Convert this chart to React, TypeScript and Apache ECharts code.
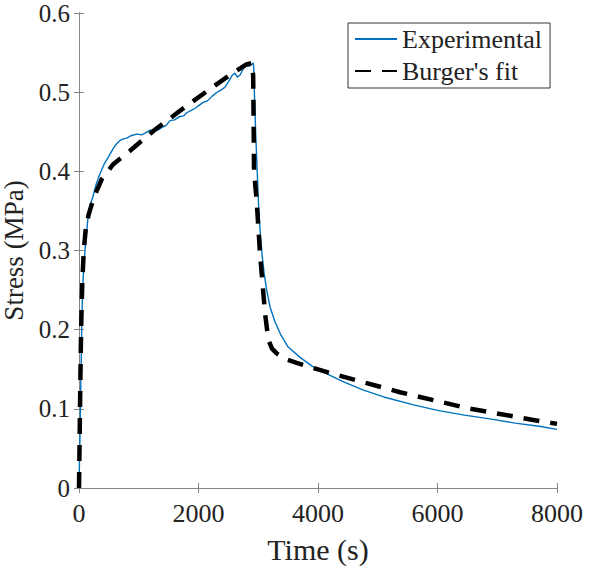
import React, { useEffect, useRef } from "react";
import * as echarts from "echarts";

const expTime = [0, 15, 30, 45, 60, 80, 100, 130, 156, 190, 229, 280, 351, 420, 491, 560, 620, 686, 740, 800, 870, 965, 1050, 1120, 1188, 1250, 1320, 1400, 1460, 1523, 1600, 1680, 1750, 1802, 1880, 1950, 2020, 2081, 2150, 2230, 2304, 2380, 2440, 2500, 2560, 2610, 2650, 2700, 2750, 2800, 2850, 2890, 2917, 2925, 2935, 2950, 2962, 2985, 3007, 3035, 3068, 3100, 3141, 3200, 3280, 3380, 3500, 3700, 3900, 4100, 4400, 4750, 5100, 5600, 6000, 6450, 6900, 7300, 7700, 8000];
const expStress = [0, 0.06, 0.13, 0.2, 0.25, 0.28, 0.3, 0.325, 0.346, 0.358, 0.367, 0.382, 0.397, 0.409, 0.418, 0.427, 0.434, 0.439, 0.441, 0.442, 0.445, 0.447, 0.446, 0.449, 0.452, 0.451, 0.452, 0.456, 0.458, 0.464, 0.465, 0.469, 0.47, 0.474, 0.477, 0.48, 0.484, 0.487, 0.489, 0.495, 0.4996, 0.503, 0.506, 0.513, 0.521, 0.524, 0.519, 0.522, 0.53, 0.533, 0.533, 0.535, 0.537, 0.53, 0.5, 0.465, 0.439, 0.395, 0.355, 0.32, 0.292, 0.27, 0.25, 0.228, 0.21, 0.193, 0.178, 0.165, 0.154, 0.146, 0.135, 0.124, 0.115, 0.105, 0.098, 0.092, 0.087, 0.082, 0.078, 0.074];

const fitTime = [0, 10, 20, 35, 55, 80, 110, 160, 212, 300, 380, 574, 854, 1244, 1690, 2192, 2550, 2800, 2900, 2915, 2930, 2973, 3030, 3113, 3169, 3230, 3309, 3450, 3643, 4256, 5372, 6488, 7604, 8000];
const fitStress = [0, 0.06, 0.12, 0.2, 0.26, 0.3, 0.325, 0.345, 0.358, 0.376, 0.39, 0.409, 0.426, 0.451, 0.4765, 0.504, 0.523, 0.535, 0.537, 0.52, 0.4, 0.363, 0.296, 0.221, 0.187, 0.176, 0.17, 0.163, 0.158, 0.144, 0.121, 0.101, 0.086, 0.081];

const seriesNames = ["Experimental", "Burger's fit"];
const xName = "Time (s)";
const yName = "Stress (MPa)";

const FONT = "Liberation Serif";
const AXIS_COLOR = "#858585";
const TEXT_COLOR = "#222222";

export default function App() {
  const ref = useRef<HTMLDivElement>(null);

  useEffect(() => {
    if (!ref.current) return;
    const chart = echarts.init(ref.current, null, { renderer: "svg" });
    const expData = expTime.map((t, i) => [t, expStress[i]]);
    const fitData = fitTime.map((t, i) => [t, fitStress[i]]);

    const baseX = {
      type: "value" as const,
      min: 0,
      max: 8000,
      interval: 2000,
      splitLine: { show: false },
      axisLine: { show: true, lineStyle: { color: AXIS_COLOR, width: 1 } },
      axisTick: { show: true, inside: true, length: 5, lineStyle: { color: AXIS_COLOR } },
    };
    const baseY = {
      type: "value" as const,
      min: 0,
      max: 0.6,
      interval: 0.1,
      splitLine: { show: false },
      axisLine: { show: true, lineStyle: { color: AXIS_COLOR, width: 1 } },
      axisTick: { show: true, inside: true, length: 5, lineStyle: { color: AXIS_COLOR } },
    };

    chart.setOption({
      animation: false,
      backgroundColor: "#ffffff",
      grid: { left: 79, right: 33, top: 13, bottom: 80, containLabel: false, outerBoundsMode: "none" },
      legend: {
        orient: "vertical",
        left: 348,
        top: 23,
        data: seriesNames,
        itemWidth: 42,
        itemHeight: 14,
        itemGap: 2,
        padding: [1, 8, 2, 6],
        backgroundColor: "#ffffff",
        borderColor: "#333333",
        borderWidth: 1,
        borderRadius: 0,
        itemStyle: { opacity: 0 },
        textStyle: { fontFamily: FONT, fontSize: 26, color: TEXT_COLOR, lineHeight: 30 },
      },
      xAxis: [
        {
          ...baseX,
          position: "bottom",
          name: xName,
          nameLocation: "middle",
          nameGap: 46,
          nameTextStyle: { fontFamily: FONT, fontSize: 30, color: TEXT_COLOR },
          axisLabel: { fontFamily: FONT, fontSize: 26, color: TEXT_COLOR, margin: 12, formatter: (v: number) => String(v) },
        },
        {
          ...baseX,
          position: "top",
          axisLabel: { show: false },
        },
      ],
      yAxis: [
        {
          ...baseY,
          position: "left",
          name: yName,
          nameLocation: "middle",
          nameGap: 42,
          nameTextStyle: { fontFamily: FONT, fontSize: 27, color: TEXT_COLOR },
          axisLabel: {
            fontFamily: FONT,
            fontSize: 25,
            color: TEXT_COLOR,
            margin: 9,
            formatter: (v: number) => String(Math.round(v * 10) / 10),
          },
        },
        {
          ...baseY,
          position: "right",
          axisLabel: { show: false },
        },
      ],
      series: [
        {
          name: seriesNames[0],
          type: "line",
          data: expData,
          showSymbol: false,
          symbol: "none",
          lineStyle: { color: "#0072BD", width: 1.4 },
          itemStyle: { color: "#0072BD" },
          z: 2,
        },
        {
          name: seriesNames[1],
          type: "line",
          data: fitData,
          showSymbol: false,
          symbol: "none",
          lineStyle: { color: "#000000", width: 4.5, type: [16, 11], cap: "butt" },
          itemStyle: { color: "#000000" },
          z: 3,
        },
      ],
    });
    return () => chart.dispose();
  }, []);

  return (
    <div
      ref={ref}
      style={{ position: "fixed", left: 0, top: 0, width: 590, height: 568, background: "#fff" }}
    />
  );
}
